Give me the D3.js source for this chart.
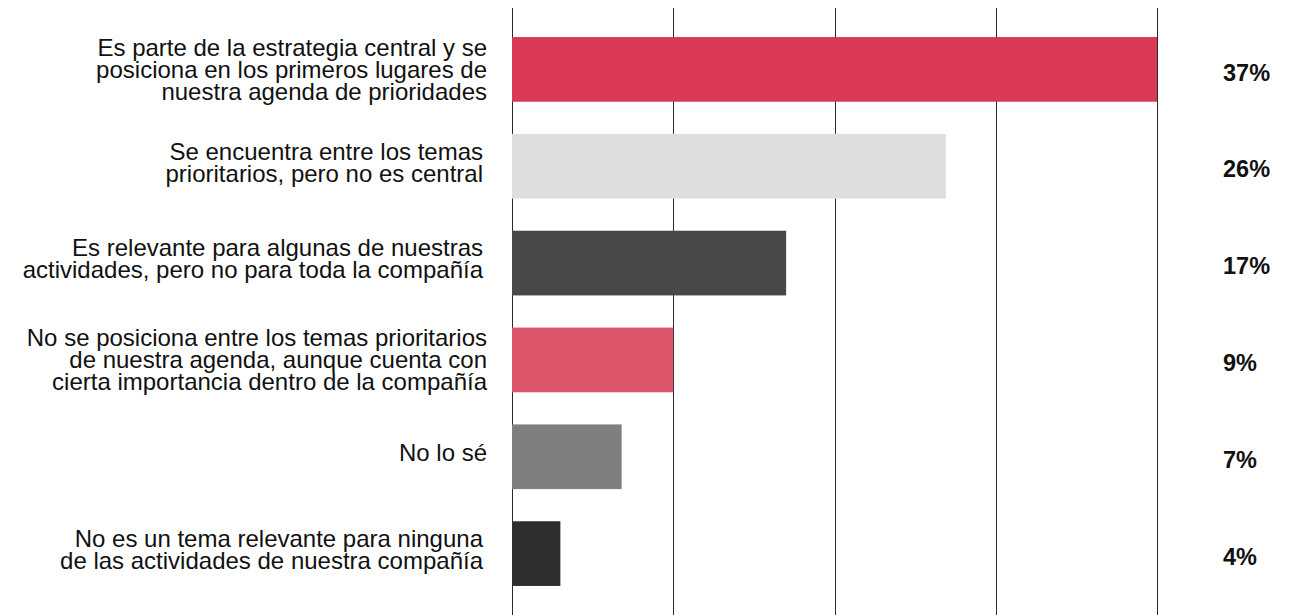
<!DOCTYPE html>
<html>
<head>
<meta charset="utf-8">
<script src="https://cdn.jsdelivr.net/npm/d3@7"></script>
<style>
    html, body { margin: 0; padding: 0; background: #fff; }
    svg { display: block; font-family: "Liberation Sans", Arial, sans-serif; }
</style>
</head>
<body>
<div id="chart"></div>
<script>
const width = 1290;
const height = 615;

// answer labels, one array entry per line
const categories = [
    ["Es parte de la estrategia central y se", "posiciona en los primeros lugares de", "nuestra agenda de prioridades"],
    ["Se encuentra entre los temas", "prioritarios, pero no es central"],
    ["Es relevante para algunas de nuestras", "actividades, pero no para toda la compañía"],
    ["No se posiciona entre los temas prioritarios", "de nuestra agenda, aunque cuenta con", "cierta importancia dentro de la compañía"],
    ["No lo sé"],
    ["No es un tema relevante para ninguna", "de las actividades de nuestra compañía"]
];

// bar lengths as drawn (in grid units, gridlines every 10)
const values = [40, 26.9, 17.0, 10.0, 6.8, 3.0];

// printed labels
const valueLabels = ["37%", "26%", "17%", "9%", "7%", "4%"];

const barColors = ["#d93954", "#dedede", "#484848", "#db556b", "#7f7f7f", "#2e2e2e"];

const gridTicks = [0, 10, 20, 30, 40];

const svg = d3.select("#chart")
    .append("svg")
    .attr("width", width)
    .attr("height", height);

const x = d3.scaleLinear()
    .domain([0, 40])
    .range([512, 1157]);

const y = d3.scaleBand()
    .domain(d3.range(values.length))
    .range([8, 615])
    .paddingInner(0.332)
    .paddingOuter(0.3);

// gridlines
svg.append("g")
    .selectAll("line")
    .data(gridTicks)
    .join("line")
    .attr("x1", d => Math.round(x(d)) + 0.5)
    .attr("x2", d => Math.round(x(d)) + 0.5)
    .attr("y1", 8)
    .attr("y2", height)
    .attr("stroke", "#2a2a2a")
    .attr("stroke-width", 1);

// bars
svg.append("g")
    .selectAll("rect")
    .data(values)
    .join("rect")
    .attr("x", x(0))
    .attr("y", (d, i) => y(i))
    .attr("width", d => x(d) - x(0))
    .attr("height", y.bandwidth())
    .attr("fill", (d, i) => barColors[i]);

// category labels (tight line spacing like the original)
const lineH = 22;
svg.append("g")
    .selectAll("text")
    .data(categories)
    .join("text")
    .attr("text-anchor", "end")
    .attr("font-size", 24)
    .attr("fill", "#111")
    .each(function(lines, i) {
        const cy = y(i) + y.bandwidth() / 2 - (lines.length === 3 ? 0 : 4);
        const first = cy - (lines.length - 1) * lineH / 2;
        const right = lines.length === 2 ? 483 : 487;
        d3.select(this).selectAll("tspan")
            .data(lines)
            .join("tspan")
            .attr("x", right)
            .attr("y", (l, j) => first + j * lineH)
            .attr("dy", "0.35em")
            .text(l => l);
    });

// value labels
svg.append("g")
    .selectAll("text")
    .data(valueLabels)
    .join("text")
    .attr("x", 1223)
    .attr("y", (d, i) => y(i) + y.bandwidth() / 2 + 3)
    .attr("dy", "0.35em")
    .attr("font-size", 23.5)
    .attr("font-weight", "bold")
    .attr("fill", "#111")
    .text(d => d);
</script>
</body>
</html>
